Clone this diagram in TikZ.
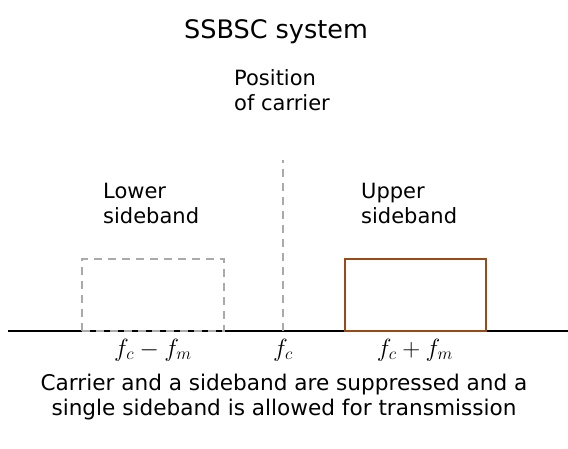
\documentclass[tikz,border=0pt]{standalone}
\usepackage{fontspec}
\setmainfont{DejaVu Sans}
\definecolor{bandbrown}{RGB}{150,75,25}
\definecolor{ghost}{RGB}{170,170,170}
\begin{document}
\begin{tikzpicture}[x=1pt,y=-1pt,
  txt/.style={inner sep=0pt,font=\fontsize{21}{25}\selectfont},
  lbl/.style={inner sep=0pt,font=\fontsize{23.5}{27}\selectfont},
  ghostline/.style={draw=ghost,line width=2pt,dash pattern=on 8pt off 6pt},
  axisline/.style={draw=black,line width=2.5pt},
  bandbox/.style={draw=bandbrown,line width=2pt}]
\useasboundingbox (0,0) rectangle (568,448);
% title
\node[txt,font=\fontsize{25.5}{29}\selectfont,anchor=base] (title) at (276,38) {SSBSC system};
% labels (base anchor = last line)
\node[txt,anchor=base west,align=left] (pos) at (234,110) {Position\\of carrier};
\node[txt,anchor=base west,align=left] (lower) at (103,223) {Lower\\sideband};
\node[txt,anchor=base west,align=left] (upper) at (361,223) {Upper\\sideband};
% axis
\coordinate (axL) at (8,331);
\coordinate (axR) at (568,331);
\draw[axisline] (axL) -- (axR);
% carrier
\coordinate (cTop) at (283,160);
\coordinate (cBot) at (283,331);
\draw[ghostline] (cBot) -- (cTop);
% lower sideband box (suppressed)
\coordinate (lbA) at (82,331);
\coordinate (lbB) at (224,259);
\draw[ghostline] (lbA) rectangle (lbB);
% upper sideband box
\coordinate (ubA) at (345,331);
\coordinate (ubB) at (486,259);
\draw[bandbox] (ubA) rectangle (ubB);
% frequency labels
\node[lbl,anchor=base] (fl) at (153,356) {$f_c - f_m$};
\node[lbl,anchor=base] (fc) at (283,356) {$f_c$};
\node[lbl,anchor=base] (fu) at (415,356) {$f_c + f_m$};
% caption
\node[txt,font=\fontsize{21.6}{25}\selectfont,anchor=base,align=center] (cap) at (284,415) {Carrier and a sideband are suppressed and a\\single sideband is allowed for transmission};
\end{tikzpicture}
\end{document}
